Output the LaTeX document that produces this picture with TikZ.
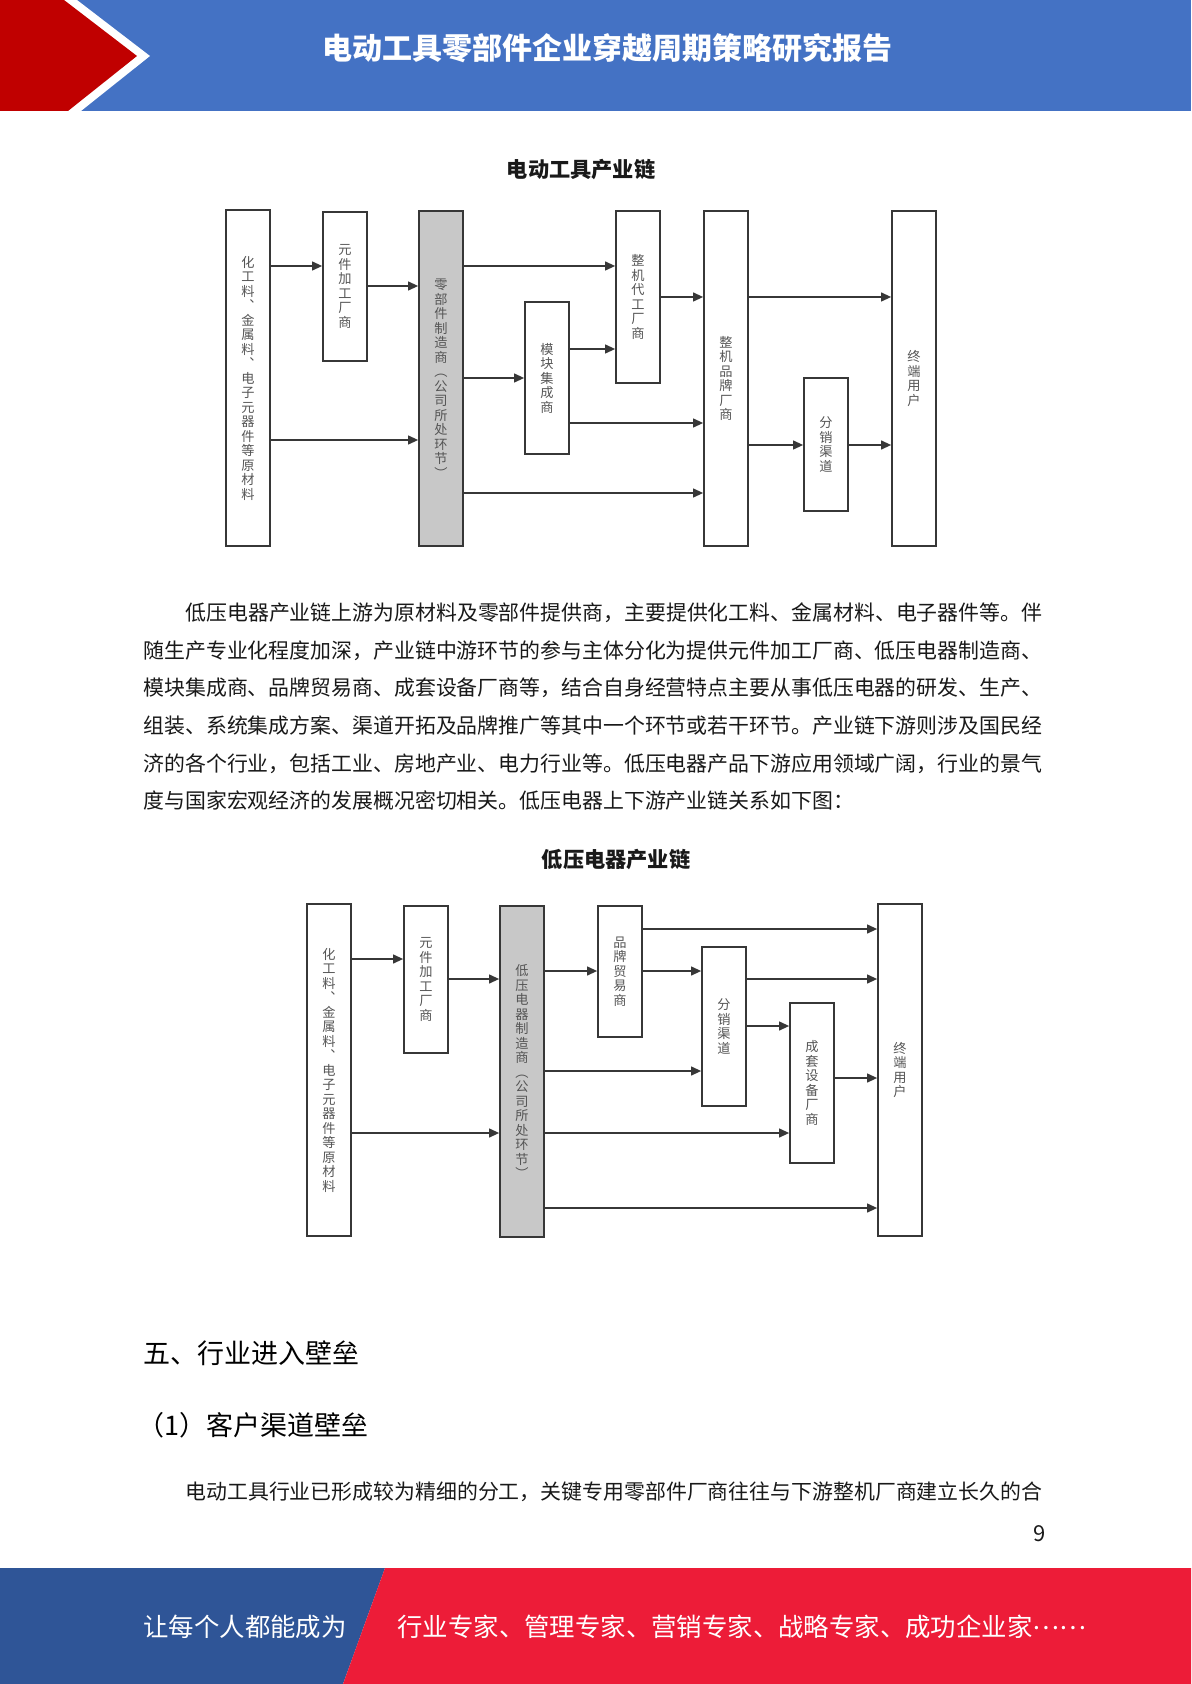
\documentclass[tikz,border=0pt]{standalone}
\usepackage{fontspec}
\setmainfont{Noto Sans CJK SC}
\usetikzlibrary{arrows.meta}
\definecolor{hdrblue}{RGB}{68,114,196}
\definecolor{hdrred}{RGB}{192,0,0}
\definecolor{ftblue}{RGB}{47,85,151}
\definecolor{ftred}{RGB}{237,28,56}
\definecolor{linec}{RGB}{55,55,55}
\definecolor{boxtext}{RGB}{85,85,85}
\definecolor{boxgray}{RGB}{200,200,200}
\definecolor{bodytext}{RGB}{25,25,25}
\def\vstack#1{\vstackA#1\vstackEnd}
\def\vstackA#1#2\vstackEnd{#1\ifx\relax#2\relax\expandafter\vstackStop\else\expandafter\vstackNext\fi{#2}}
\def\vstackStop#1{}
\def\vstackNext#1{\\\vstackA#1\vstackEnd}
\begin{document}
\begin{tikzpicture}[x=0.5pt,y=-0.5pt,
  chainbox/.style={draw=linec, line width=0.9pt, fill=white, minimum width=22pt, inner sep=0pt, align=center, text=boxtext, font=\fontsize{6.6pt}{7.25pt}\selectfont},
  graybox/.style={chainbox, fill=boxgray},
  arr/.style={draw=linec, line width=0.6pt, -{Triangle[length=5pt,width=4.5pt]}},
  dtitle/.style={inner sep=0pt, text=bodytext, font=\bfseries\fontsize{10.6pt}{12pt}\selectfont},
  body/.style={anchor=west, inner sep=0pt, text=bodytext, font=\fontsize{10.45pt}{12pt}\selectfont},
  heading/.style={anchor=west, inner sep=0pt, text=black, font=\fontsize{13.5pt}{15pt}\selectfont},
  foot/.style={anchor=west, inner sep=0pt, text=white, font=\fontsize{12.7pt}{14pt}\selectfont}
]
\useasboundingbox (0,0) rectangle (1191,1684);
\fill[white] (0,0) rectangle (1191,1684);
% header
\fill[hdrblue] (0,0) rectangle (1191,111);
\fill[white] (0,0) -- (77,0) -- (150,56) -- (81,111) -- (0,111) -- cycle;
\fill[hdrred] (0,0) -- (64,0) -- (137,56) -- (68,111) -- (0,111) -- cycle;
\node[inner sep=0pt, text=white, font=\bfseries\fontsize{15pt}{17pt}\selectfont] (htitle) at (607,48) {电动工具零部件企业穿越周期策略研究报告};
% footer
\fill[ftblue] (0,1568) -- (385,1568) -- (343,1684) -- (0,1684) -- cycle;
\fill[ftred] (385,1568) -- (1191,1568) -- (1191,1684) -- (343,1684) -- cycle;
\node[foot] (f1) at (143,1627) {让每个人都能成为};
\node[foot] (f2) at (397,1627) {行业专家、管理专家、营销专家、战略专家、成功企业家\raisebox{0.3em}{……}};
\node[inner sep=0pt, text=bodytext, font=\fontsize{11pt}{13pt}\selectfont] (pnum) at (1040,1534) {9};

% diagram 1
\node[dtitle] (t1) at (581,170) {电动工具产业链};
\node[chainbox, minimum height=168pt] (A) at (248,378) {\vstack{化工料︑金属料︑电子元器件等原材料}};
\node[chainbox, minimum height=74.5pt] (B) at (345,286.5) {\vstack{元件加工厂商}};
\node[graybox, minimum height=167.5pt] (C) at (441,378.5) {\vstack{零部件制造商︵公司所处环节︶}};
\node[chainbox, minimum height=76pt] (D) at (547,378) {\vstack{模块集成商}};
\node[chainbox, minimum height=86pt] (E) at (638,297) {\vstack{整机代工厂商}};
\node[chainbox, minimum height=167.5pt] (F) at (726,378.5) {\vstack{整机品牌厂商}};
\node[chainbox, minimum height=66.5pt] (G) at (826,444.5) {\vstack{分销渠道}};
\node[chainbox, minimum height=167.5pt] (H) at (914,378.5) {\vstack{终端用户}};
\draw[arr] (A.east |- 0,266) -- (B.west |- 0,266);
\draw[arr] (B.east |- 0,286) -- (C.west |- 0,286);
\draw[arr] (A.east |- 0,440) -- (C.west |- 0,440);
\draw[arr] (C.east |- 0,266) -- (E.west |- 0,266);
\draw[arr] (C.east |- 0,378) -- (D.west |- 0,378);
\draw[arr] (D.east |- 0,349) -- (E.west |- 0,349);
\draw[arr] (D.east |- 0,423) -- (F.west |- 0,423);
\draw[arr] (C.east |- 0,493) -- (F.west |- 0,493);
\draw[arr] (E.east |- 0,297) -- (F.west |- 0,297);
\draw[arr] (F.east |- 0,297) -- (H.west |- 0,297);
\draw[arr] (F.east |- 0,445) -- (G.west |- 0,445);
\draw[arr] (G.east |- 0,445) -- (H.west |- 0,445);

% paragraph
\node[body] (p1) at (185,613) {低压电器产业链上游为原材料及零部件提供商，主要提供化工料、金属材料、电子器件等。伴};
\node[body] (p2) at (143,651) {随生产专业化程度加深，产业链中游环节的参与主体分化为提供元件加工厂商、低压电器制造商、};
\node[body] (p3) at (143,688) {模块集成商、品牌贸易商、成套设备厂商等，结合自身经营特点主要从事低压电器的研发、生产、};
\node[body] (p4) at (143,726) {组装、系统集成方案、渠道开拓及品牌推广等其中一个环节或若干环节。产业链下游则涉及国民经};
\node[body] (p5) at (143,764) {济的各个行业，包括工业、房地产业、电力行业等。低压电器产品下游应用领域广阔，行业的景气};
\node[body] (p6) at (143,801) {度与国家宏观经济的发展概况密切相关。低压电器上下游产业链关系如下图：};

% diagram 2
\node[dtitle] (t2) at (616,860) {低压电器产业链};
\node[chainbox, minimum height=166pt] (A2) at (329,1070) {\vstack{化工料︑金属料︑电子元器件等原材料}};
\node[chainbox, minimum height=73.5pt] (B2) at (426,979.5) {\vstack{元件加工厂商}};
\node[graybox, minimum height=165.5pt] (C2) at (522,1071.5) {\vstack{低压电器制造商︵公司所处环节︶}};
\node[chainbox, minimum height=65.5pt] (D2) at (620,971.5) {\vstack{品牌贸易商}};
\node[chainbox, minimum height=79.5pt] (E2) at (724,1026.5) {\vstack{分销渠道}};
\node[chainbox, minimum height=80pt] (F2) at (812,1083) {\vstack{成套设备厂商}};
\node[chainbox, minimum height=166pt] (H2) at (900,1070) {\vstack{终端用户}};
\draw[arr] (A2.east |- 0,959) -- (B2.west |- 0,959);
\draw[arr] (B2.east |- 0,979) -- (C2.west |- 0,979);
\draw[arr] (A2.east |- 0,1133) -- (C2.west |- 0,1133);
\draw[arr] (C2.east |- 0,971) -- (D2.west |- 0,971);
\draw[arr] (D2.east |- 0,971) -- (E2.west |- 0,971);
\draw[arr] (D2.east |- 0,929) -- (H2.west |- 0,929);
\draw[arr] (C2.east |- 0,1071) -- (E2.west |- 0,1071);
\draw[arr] (C2.east |- 0,1133) -- (F2.west |- 0,1133);
\draw[arr] (C2.east |- 0,1208) -- (H2.west |- 0,1208);
\draw[arr] (E2.east |- 0,979) -- (H2.west |- 0,979);
\draw[arr] (E2.east |- 0,1026) -- (F2.west |- 0,1026);
\draw[arr] (F2.east |- 0,1078) -- (H2.west |- 0,1078);

% headings and text
\node[heading] (h1) at (143,1353) {五、行业进入壁垒};
\node[heading] (h2) at (137,1425) {（1）客户渠道壁垒};
\node[body] (p7) at (185,1492) {电动工具行业已形成较为精细的分工，关键专用零部件厂商往往与下游整机厂商建立长久的合};
\end{tikzpicture}
\end{document}
